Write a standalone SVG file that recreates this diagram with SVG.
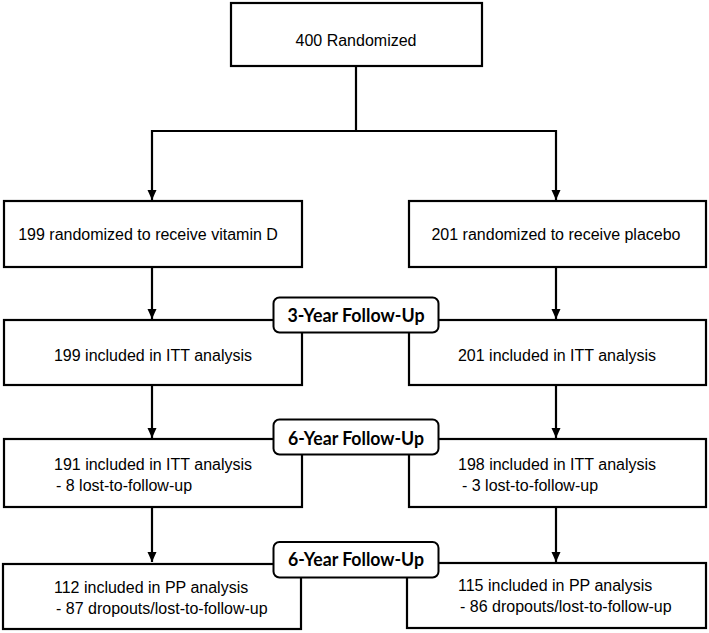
<svg xmlns="http://www.w3.org/2000/svg" width="709" height="633" viewBox="0 0 709 633">
<defs>
<marker id="ah" viewBox="0 0 10 10" refX="10" refY="5" markerWidth="10" markerHeight="10" markerUnits="userSpaceOnUse" orient="auto">
<path d="M0,0.5 L10,5 L0,9.5 Z" fill="#000"/>
</marker>
<style>
.box{fill:#fff;stroke:#000;stroke-width:2.2}
.lbl{fill:#fff;stroke:#000;stroke-width:2}
.t{font-family:"Liberation Sans",Arial,sans-serif;font-size:16px;fill:#000}
.c{text-anchor:middle}
.b{font-family:Lato,"Open Sans",sans-serif;font-weight:bold;font-size:18.5px;fill:#000;text-anchor:middle}
.ln{fill:none;stroke:#000;stroke-width:2.2}
</style>
</defs>
<rect width="709" height="633" fill="#fff"/>
<g id="connectors">
<path class="ln" d="M356,66 V131 M152,131 H556"/>
<path class="ln" d="M152,130 V200" marker-end="url(#ah)"/>
<path class="ln" d="M556,130 V200" marker-end="url(#ah)"/>
<path class="ln" d="M152,267 V319" marker-end="url(#ah)"/>
<path class="ln" d="M556,267 V319" marker-end="url(#ah)"/>
<path class="ln" d="M152,385 V438" marker-end="url(#ah)"/>
<path class="ln" d="M556,385 V438" marker-end="url(#ah)"/>
<path class="ln" d="M152,507 V562" marker-end="url(#ah)"/>
<path class="ln" d="M556,507 V562" marker-end="url(#ah)"/>
</g>
<g id="n-randomized">
<rect class="box" x="231" y="3" width="251" height="63"/>
<text class="t c" x="356" y="46">400 Randomized</text>
</g>
<g id="n-vitd">
<rect class="box" x="4" y="201" width="298" height="66"/>
<text class="t c" x="148" y="240">199 randomized to receive vitamin D</text>
</g>
<g id="n-placebo">
<rect class="box" x="409" y="201" width="297" height="66"/>
<text class="t c" x="556" y="240">201 randomized to receive placebo</text>
</g>
<g id="n-itt3-vitd">
<rect class="box" x="4" y="320" width="298" height="65"/>
<text class="t c" x="153" y="361">199 included in ITT analysis</text>
</g>
<g id="n-itt3-placebo">
<rect class="box" x="409" y="320" width="297" height="65"/>
<text class="t c" x="557" y="361">201 included in ITT analysis</text>
</g>
<g id="n-itt6-vitd">
<rect class="box" x="4" y="439" width="298" height="68"/>
<text class="t" x="54" y="470">191 included in ITT analysis</text>
<text class="t" x="56" y="491">- 8 lost-to-follow-up</text>
</g>
<g id="n-itt6-placebo">
<rect class="box" x="409" y="439" width="297" height="68"/>
<text class="t" x="458" y="470">198 included in ITT analysis</text>
<text class="t" x="462" y="491">- 3 lost-to-follow-up</text>
</g>
<g id="n-pp-vitd">
<rect class="box" x="3" y="564" width="298" height="65"/>
<text class="t" x="54" y="593">112 included in PP analysis</text>
<text class="t" x="56" y="614">- 87 dropouts/lost-to-follow-up</text>
</g>
<g id="n-pp-placebo">
<rect class="box" x="407" y="563" width="299" height="65"/>
<text class="t" x="458" y="591">115 included in PP analysis</text>
<text class="t" x="460" y="612">- 86 dropouts/lost-to-follow-up</text>
</g>
<g id="lbl-3y">
<rect class="lbl" x="273.5" y="297.5" width="165" height="35" rx="6"/>
<text class="b" x="356" y="322" textLength="137" lengthAdjust="spacingAndGlyphs">3-Year Follow-Up</text>
</g>
<g id="lbl-6y-itt">
<rect class="lbl" x="273.5" y="419.5" width="165" height="35" rx="6"/>
<text class="b" x="356" y="444.5" textLength="136" lengthAdjust="spacingAndGlyphs">6-Year Follow-Up</text>
</g>
<g id="lbl-6y-pp">
<rect class="lbl" x="273.5" y="542" width="165" height="35.5" rx="6"/>
<text class="b" x="356" y="566" textLength="136" lengthAdjust="spacingAndGlyphs">6-Year Follow-Up</text>
</g>
</svg>
